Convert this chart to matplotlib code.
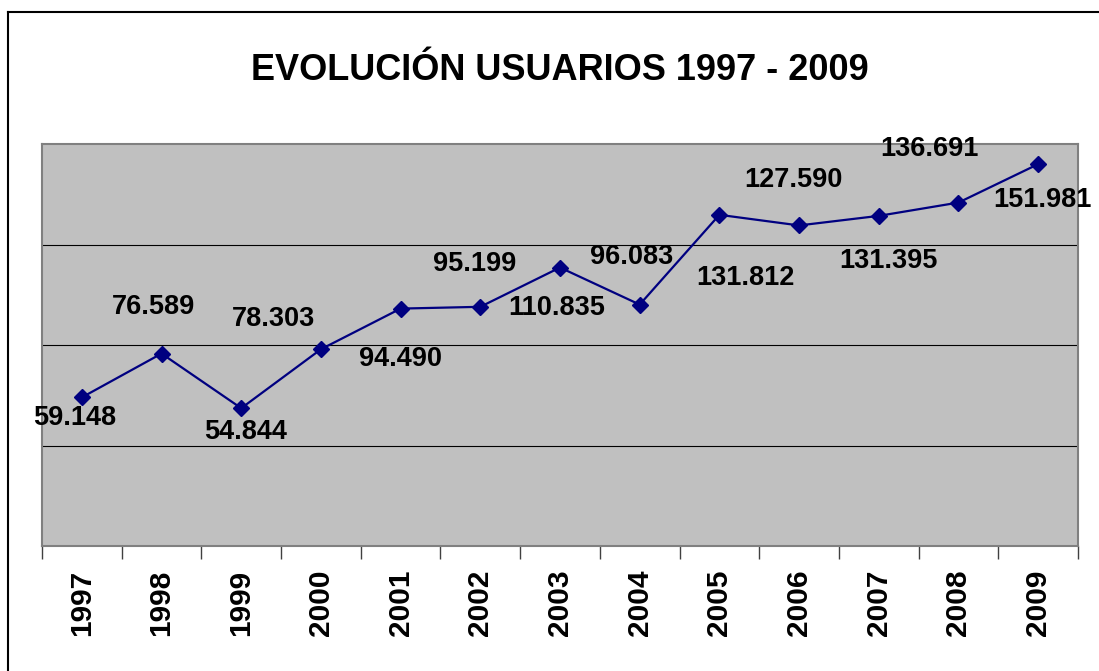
import matplotlib
matplotlib.use("Agg")
import matplotlib.pyplot as plt
from matplotlib.lines import Line2D

plt.rcParams['font.family'] = ['Liberation Sans', 'DejaVu Sans']

# Datos: usuarios por año
anios = ['1997', '1998', '1999', '2000', '2001', '2002', '2003',
         '2004', '2005', '2006', '2007', '2008', '2009']
usuarios = [59148, 76589, 54844, 78303, 94490, 95199, 110835,
            96083, 131812, 127590, 131395, 136691, 151981]

# desplazamiento de cada etiqueta respecto a su punto (pixeles, y hacia abajo)
desp_etiquetas = [(-7, 21), (-8, -47), (4, 24), (-47, -30), (0, 50), (-6, -43),
                  (-3, 40), (-8, -48), (26, 63), (-6, -45), (10, 45), (-29, -54),
                  (4, 36)]


def formato_miles(v):
    return f"{v:,}".replace(",", ".")


fig = plt.figure(figsize=(10.99, 6.71), dpi=100)
ax = fig.add_axes([42/1099, 1 - 546/671, (1078 - 42)/1099, (546 - 144)/671])

x = list(range(len(anios)))
ax.plot(x, usuarios, color='#000080', lw=1.6, marker='D', markersize=7.8,
        markerfacecolor='#000080', markeredgecolor='#000080', zorder=3)

ax.set_xlim(-0.5, len(anios) - 0.5)
ax.set_ylim(0, 160000)
ax.set_facecolor('#C0C0C0')

# rejilla horizontal
for yv in [40000, 80000, 120000]:
    ax.axhline(yv, color='black', lw=0.8, zorder=1)

for s in ax.spines.values():
    s.set_color('#808080')
    s.set_linewidth(1.5)

ax.set_yticks([])
ax.set_xticks([i - 0.5 for i in range(len(anios) + 1)])
ax.set_xticklabels([])
ax.set_xticks(x, minor=True)
ax.set_xticklabels(anios, minor=True, rotation=90, fontsize=21.5, fontweight='bold')
ax.tick_params(axis='x', which='major', length=9, width=1, color='#404040')
ax.tick_params(axis='x', which='minor', length=0, pad=17)

# etiquetas de datos
for xi, v, (dx, dy) in zip(x, usuarios, desp_etiquetas):
    ax.annotate(formato_miles(v), (xi, v), xytext=(dx, -dy),
                textcoords='offset pixels', ha='center', va='center',
                fontsize=19.5, fontweight='bold', color='black',
                annotation_clip=False, zorder=4)

fig.text(560/1099, 1 - 71/671, 'EVOLUCIÓN USUARIOS 1997 - 2009',
         ha='center', va='center', fontsize=26, fontweight='bold')

# borde exterior del grafico
fig.add_artist(Line2D([8/1099, 8/1099], [0, 1 - 12/671], transform=fig.transFigure,
                      color='black', lw=1.5))
fig.add_artist(Line2D([8/1099, 1], [1 - 12/671, 1 - 12/671], transform=fig.transFigure,
                      color='black', lw=1.5))

fig.savefig('out.png', dpi=100)
